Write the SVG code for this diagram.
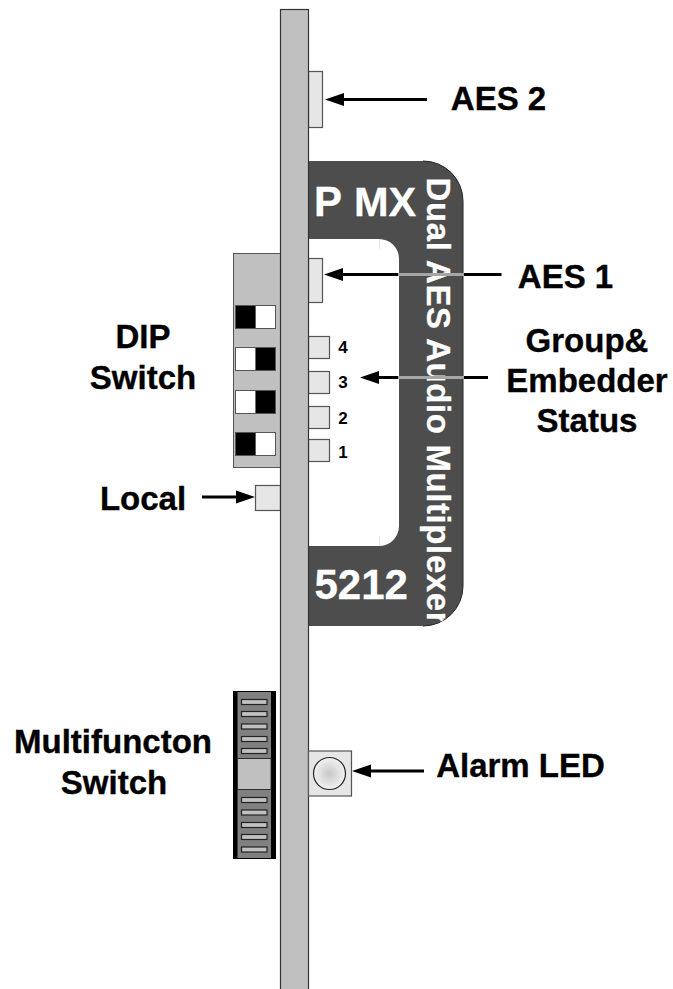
<svg xmlns="http://www.w3.org/2000/svg" width="673" height="989" viewBox="0 0 673 989">
<defs>
<radialGradient id="led"><stop offset="0" stop-color="#c8c8c8"/><stop offset="1" stop-color="#f2f2f2"/></radialGradient>
<marker id="ah" markerUnits="userSpaceOnUse" markerWidth="20" markerHeight="14" refX="10" refY="7" orient="auto"><path d="M0 7L19 0.5V13.5Z" fill="#000"/></marker>
<clipPath id="hc"><path d="M308 161H423A40 40 0 0 1 463 201V586A40 40 0 0 1 423 626H308Z"/></clipPath>
</defs>
<style>
text{font-family:"Liberation Sans",Arial,sans-serif;font-weight:700;fill:#000}
.lab{font-size:33px;text-anchor:middle;stroke:#000;stroke-width:0.35}
.num{font-size:17px;text-anchor:middle}
text.w{fill:#fff;stroke:#fff;stroke-width:0.3}
.box{fill:#e6e6e6;stroke:#555;stroke-width:1.2}
.sw{stroke:#555;stroke-width:1}
.slot{fill:#c0c0c0;stroke:#222;stroke-width:1.2}
.ln{stroke:#000;stroke-width:3;fill:none;marker-start:url(#ah)}
.gr{stroke:#a6a6a6;stroke-width:3}
</style>
<g id="handle">
<path d="M308 161H423A40 40 0 0 1 463 201V586A40 40 0 0 1 423 626H308V546H379A20 20 0 0 0 399 526V259A20 20 0 0 0 379 239H308Z" fill="#4d4d4d"/>
<path d="M423 161A40 40 0 0 1 463 201V586A40 40 0 0 1 423 626" fill="none" stroke="#222" stroke-width="1"/>
<path d="M379.500 239V249M379.500 536V546" stroke="#ddd" stroke-width="0.800"/>
<text class="w" x="314" y="216" font-size="42">P</text>
<text class="w" x="354" y="216" font-size="41.500">MX</text>
<text class="w" x="314.500" y="599" font-size="42">5212</text>
<g clip-path="url(#hc)"><text class="w" font-size="33" letter-spacing="0.6" transform="translate(426.500 177.500) rotate(90)">Dual AES Audio Multiplexer</text></g>
</g>
<g id="aes2"><rect class="box" x="308.500" y="71.500" width="14" height="56"/></g>
<g id="aes1"><rect class="box" x="308.500" y="258.500" width="14" height="44"/></g>
<g id="led4"><rect class="box" x="308.500" y="336.500" width="21" height="22"/><text class="num" x="343" y="353">4</text></g>
<g id="led3"><rect class="box" x="308.500" y="371.500" width="21" height="22"/><text class="num" x="343" y="388">3</text></g>
<g id="led2"><rect class="box" x="308.500" y="406.500" width="21" height="22"/><text class="num" x="343" y="424">2</text></g>
<g id="led1"><rect class="box" x="308.500" y="439.500" width="21" height="22"/><text class="num" x="343" y="458">1</text></g>
<g id="dip">
<rect x="233.500" y="253.500" width="47" height="214" fill="#c0c0c0" stroke="#555" stroke-width="1"/>
<rect x="235.500" y="305.500" width="20" height="23" fill="#000"/><rect class="sw" x="235.500" y="305.500" width="40" height="23" fill="none"/><rect x="256" y="306" width="19" height="22" fill="#fff"/>
<rect x="235.500" y="347.500" width="20" height="23" fill="#fff"/><rect x="255.500" y="347.500" width="20" height="23" fill="#000"/><rect class="sw" x="235.500" y="347.500" width="40" height="23" fill="none"/>
<rect x="235.500" y="390.500" width="20" height="23" fill="#fff"/><rect x="255.500" y="390.500" width="20" height="23" fill="#000"/><rect class="sw" x="235.500" y="390.500" width="40" height="23" fill="none"/>
<rect x="235.500" y="432.500" width="20" height="23" fill="#000"/><rect class="sw" x="235.500" y="432.500" width="40" height="23" fill="none"/><rect x="256" y="433" width="19" height="22" fill="#fff"/>
</g>
<g id="local"><rect class="box" x="255.500" y="485.500" width="25" height="25"/></g>
<g id="multifunction">
<rect x="233" y="691" width="43" height="168" fill="#000"/>
<rect x="237.500" y="692" width="33.500" height="66" fill="#808080"/>
<rect x="237.500" y="758.500" width="33.500" height="31" fill="#c0c0c0" stroke="#222" stroke-width="0.8"/>
<rect x="237.500" y="790" width="33.500" height="68" fill="#808080"/>
<rect class="slot" x="241.500" y="699.500" width="25.500" height="5"/>
<rect class="slot" x="241.500" y="711.500" width="25.500" height="5"/>
<rect class="slot" x="241.500" y="724" width="25.500" height="5"/>
<rect class="slot" x="241.500" y="736.500" width="25.500" height="5"/>
<rect class="slot" x="241.500" y="748.500" width="25.500" height="5"/>
<rect class="slot" x="241.500" y="797.500" width="25.500" height="5"/>
<rect class="slot" x="241.500" y="810" width="25.500" height="5"/>
<rect class="slot" x="241.500" y="822.500" width="25.500" height="5"/>
<rect class="slot" x="241.500" y="834.500" width="25.500" height="5"/>
<rect class="slot" x="241.500" y="847" width="25.500" height="5"/>
</g>
<g id="board"><rect x="280.500" y="9.500" width="28" height="985" fill="#c0c0c0" stroke="#333" stroke-width="1.200"/></g>
<g id="alarm"><rect class="box" x="308.500" y="751" width="43" height="45"/><circle cx="329.500" cy="773.500" r="16" fill="url(#led)" stroke="#222" stroke-width="1.200"/></g>
<g id="connectors">
<line class="ln" x1="335" y1="99.500" x2="427" y2="99.500"/>
<line class="ln" x1="334" y1="274.500" x2="501.500" y2="274.500"/>
<line class="gr" x1="398" y1="274.500" x2="464" y2="274.500"/>
<line class="ln" x1="370" y1="377.500" x2="488" y2="377.500"/>
<line class="gr" x1="398" y1="377.500" x2="464" y2="377.500"/>
<line class="ln" x1="245" y1="497" x2="202" y2="497"/>
<line class="ln" x1="362" y1="771" x2="424" y2="771"/>
</g>
<g id="labels">
<text class="lab" x="498.500" y="110">AES 2</text>
<text class="lab" x="565.500" y="288">AES 1</text>
<text class="lab" x="587" y="352">Group&amp;</text>
<text class="lab" x="587" y="391.500">Embedder</text>
<text class="lab" x="587" y="432">Status</text>
<text class="lab" x="143" y="348">DIP</text>
<text class="lab" x="143" y="389">Switch</text>
<text class="lab" x="143" y="510">Local</text>
<text class="lab" x="113" y="753">Multifuncton</text>
<text class="lab" x="114" y="794">Switch</text>
<text class="lab" x="520.500" y="777">Alarm LED</text>
</g>
</svg>
